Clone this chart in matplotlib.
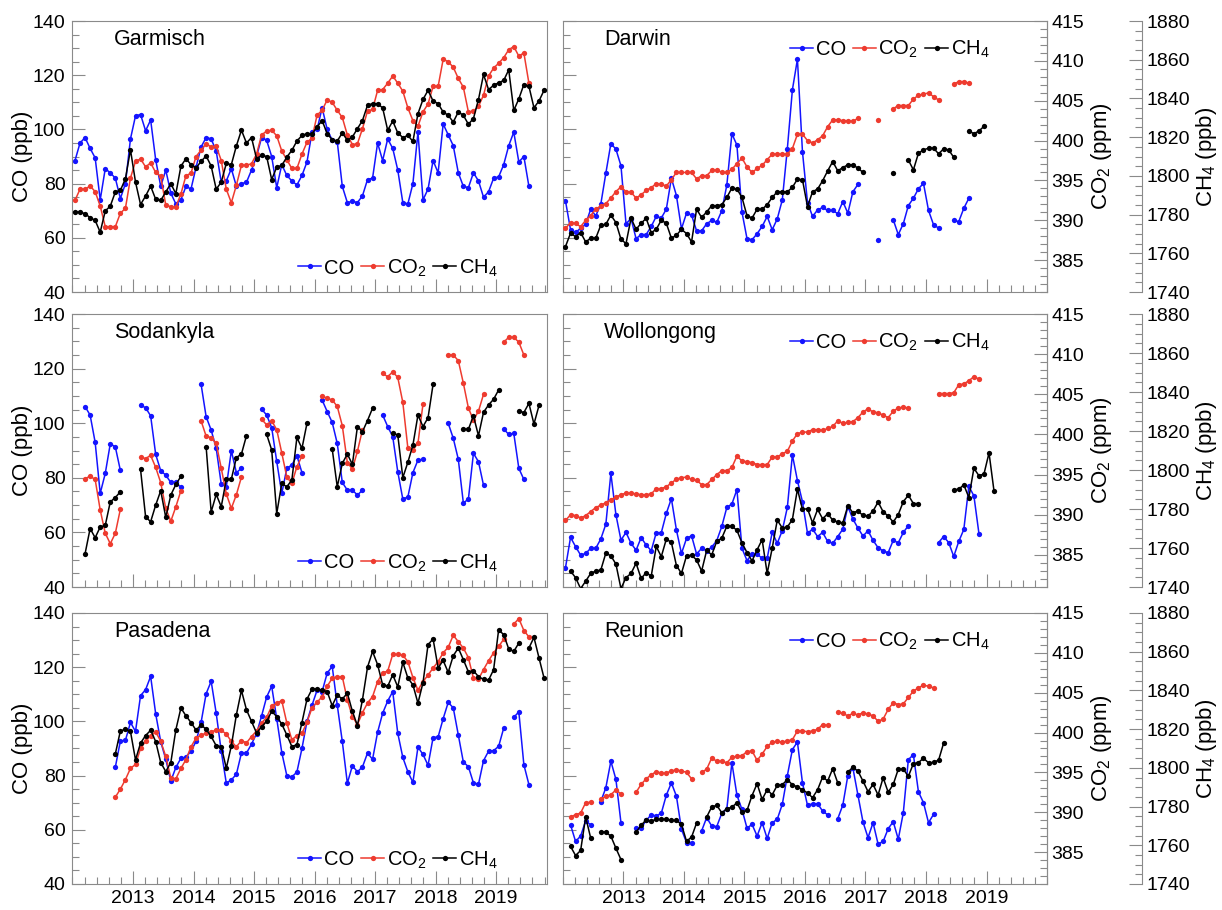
import numpy as np
import matplotlib.pyplot as plt
from matplotlib.lines import Line2D
from matplotlib.ticker import MultipleLocator

plt.rcParams['font.family'] = ['Liberation Sans', 'DejaVu Sans']
plt.rcParams['mathtext.fontset'] = 'custom'
plt.rcParams['mathtext.rm'] = 'Liberation Sans'
plt.rcParams['mathtext.it'] = 'Liberation Sans:italic'

nan = np.nan

# ── Monthly means, index 0 = Jan 2012 ────────────────────────────────────────
# CO in ppb, CO2 in ppm, CH4 in ppb

garmisch_start = 0
garmisch_co = [88.5, 95, 97, 93, 89.5, 74, 85.5, 84, 82, 74.5, 80, 96.5,
               105, 105.5, 99.5, 103.5, 88.8, 79, 85, 76.5, 72.5, 74, 79, 78,
               86, 93.5, 97, 96.5, 92, 80.5, 81, 85.5, 79, 80, 80.5, 85,
               90, 97, 96, 90, 78.5, 87, 83, 81, 79.5, 83, 88, 99,
               100, 108, 100, 96, 95.5, 79, 73, 73.5, 73, 75.5, 81.5, 82,
               95, 88.5, 96.5, 93, 85, 73, 72.5, 80, 99, 74, 78, 88.5,
               84, 102, 98, 94, 84, 79, 78.5, 84, 81, 75, 77, 82,
               82.5, 87, 94, 99, 88, 90, 79]
garmisch_co2 = [392.5, 393.9, 393.9, 394.3, 393.6, 391.8, 389.2, 389.2, 389.2, 390.9, 391.5, 395.3,
                397.4, 397.7, 396.7, 397.2, 396.0, 395.5, 391.9, 391.7, 391.7, 393.3, 395.6, 395.9,
                398.0, 398.8, 399.6, 399.2, 399.3, 397.5, 393.9, 392.2, 394.4, 396.9, 396.9, 397.1,
                398.3, 400.7, 401.2, 401.3, 400.6, 398.7, 397.6, 396.5, 396.5, 398.3, 399.8, 400.3,
                403.2, 403.8, 405.1, 404.8, 403.8, 402.9, 400.7, 399.5, 399.6, 401.5, 403.7, 403.9,
                406.3, 406.4, 407.2, 408.1, 407.2, 406.2, 404.1, 402.5, 401.8, 403.6, 404.6, 406.8,
                406.8, 410.2, 409.9, 409.2, 407.8, 406.7, 403.6, 403.7, 404.3, 405.7, 408.1, 409.1,
                409.7, 410.4, 411.4, 411.8, 410.6, 411.0, 407.2]
garmisch_ch4 = [1781.2, 1781.2, 1780.5, 1778.4, 1777.0, 1770.9, 1781.9, 1784.4, 1791.7, 1792.5, 1798.5, 1813.5,
                1796.8, 1785.2, 1789.6, 1794.7, 1787.9, 1787.3, 1791.7, 1796.0, 1790.8, 1805.0, 1808.9, 1805.8,
                1804.1, 1807.5, 1810.3, 1805.1, 1793.1, 1796.8, 1806.4, 1805.8, 1815.5, 1823.6, 1817.0, 1819.8,
                1808.9, 1810.6, 1810.0, 1798.1, 1804.5, 1805.4, 1809.7, 1813.2, 1818.0, 1820.9, 1821.8, 1821.8,
                1825.3, 1828.6, 1821.8, 1818.7, 1818.0, 1822.2, 1818.4, 1820.1, 1824.4, 1828.6, 1836.5, 1837.3,
                1837.3, 1835.1, 1823.6, 1828.3, 1822.2, 1819.8, 1820.9, 1817.8, 1832.1, 1839.5, 1844.2, 1838.7,
                1837.3, 1833.0, 1831.3, 1827.8, 1833.0, 1831.3, 1826.7, 1829.6, 1839.4, 1852.4, 1844.6, 1846.8,
                1848.1, 1849.3, 1854.8, 1833.8, 1839.8, 1847.2, 1846.3, 1835.2, 1838.7, 1844.2]

sodankyla_start = 2
sodankyla_co = [106.1, 103, 93, 74.3, 81.6, 92.5, 91.3, 82.7,
                nan, nan, nan,
                106.6, 105.7, 102.7, 88.6, 82.6, 81, 78.3, 78.3, 76.5,
                nan, nan, nan,
                114.3, 102.4, 97.5, 90.8, 77.7, 76.7, 89.9, 81.9, 83.5,
                nan, nan, nan,
                105.2, 103, 98.4, 86, 74.3, 83.5, 84.7, 88.1, 81.9,
                nan, nan, nan,
                108.5, 104.3, 100.3, 92.6, 78.3, 75.5, 75.5, 73.7, 75.5,
                nan, nan, nan,
                103, 98.8, 95.1, 82.2, 72.2, 73, 81.9, 86.5, 86.8,
                nan, nan, nan, nan,
                100, 94.5, 86.8, 70.8, 72.2, 89, 85.9, 77.3,
                nan, nan, nan,
                97.9, 95.9, 96.3, 83.5, 79.4]
sodankyla_co2 = [394.5, 394.8, 394.4, 390.6, 387.7, 386.4, 387.7, 390.7,
                 nan, nan, nan,
                 397.2, 397.0, 397.4, 395.9, 394.0, 390.8, 389.2, 391.0, 393.0,
                 nan, nan, nan,
                 401.7, 399.8, 399.6, 398.9, 395.8, 392.6, 390.8, 392.5, 394.7,
                 nan, nan, nan,
                 401.9, 401.2, 401.7, 400.6, 397.7, 394.7, 393.9, 396.0, 397.3,
                 nan, nan, nan,
                 404.8, 404.5, 404.3, 403.5, 401.1, 396.5, 395.7, 397.9, 400.6,
                 nan, nan, nan,
                 407.6, 407.2, 407.8, 407.1, 404.0, 398.3, 398.1, 398.9, 403.8,
                 nan, nan, nan, nan,
                 409.9, 409.9, 409.2, 406.4, 403.3, 401.8, 402.9, 405.0,
                 nan, nan, nan,
                 411.5, 412.1, 412.1, 411.5, 409.9]
sodankyla_ch4 = [1757.1, 1770.0, 1765.3, 1770.8, 1771.6, 1783.7, 1785.9, 1788.9,
                 nan, nan, nan,
                 1800.3, 1776.0, 1773.5, 1782.0, 1789.4, 1775.7, 1787.2, 1792.6, 1796.8,
                 nan, nan, nan, nan,
                 1812.0, 1778.5, 1787.5, 1781.2, 1795.2, 1795.3, 1806.4, 1808.2, 1817.6,
                 nan, nan, nan,
                 1818.3, 1810.3, 1777.7, 1793.1, 1791.4, 1794.9, 1816.7, 1811.1, 1824.0,
                 nan, nan, nan, nan,
                 1810.8, 1791.4, 1803.4, 1808.2, 1802.9, 1822.3, 1819.7, 1825.4, 1831.7,
                 nan, nan, nan,
                 1818.8, 1818.0, 1796.1, 1804.0, 1812.8, 1828.2, 1822.3, 1826.8, 1844.0,
                 nan, nan, nan, nan, nan,
                 1820.9, 1820.9, 1827.8, 1817.6, 1829.6, 1833.4, 1836.3, 1841.1,
                 nan, nan, nan,
                 1830.3, 1829.5, 1834.2, 1823.6, 1833.1]

pasadena_start = 8
pasadena_co = [83.1, 92.8, 93, 99.6, 96.3, 109.5, 111.7, 116.6, 102.8, 92.5, 86, 78,
               83, 86.4, 86.8, 89, 92.6, 99.6, 110.2, 114.8, 103, 89, 77.2, 78.4,
               80.5, 88.3, 88.3, 91.6, 95.5, 102, 109, 113, 101, 88.5, 80, 79.5,
               81.3, 90, 100, 106, 111.5, 111, 117.8, 120.3, 106, 92.6, 77.2, 83.6,
               81.4, 83.2, 88.3, 86, 96, 103, 107.5, 111, 95.6, 86.7, 81.4, 77.5,
               90.5, 87.8, 83.8, 94, 94.3, 101, 107, 105, 95, 85, 83.3, 77.3,
               76.8, 85.5, 89, 89.2, 90.8, 97.5, nan, 101.5, 103.5, 84, 76.7]
pasadena_co2 = [391.9, 392.9, 394.1, 395.5, 396.0, 398.0, 398.9, 399.6, 400.1, 398.9, 397.0, 394.3,
                394.2, 395.5, 396.6, 398.2, 399.3, 399.7, 399.9, 400.1, 400.3, 400.3, 399.8, 398.9,
                398.2, 399.0, 398.7, 399.5, 400.2, 401.2, 401.9, 403.3, 403.7, 404.0, 401.2, 399.1,
                399.6, 399.9, 401.3, 403.1, 403.8, 404.5, 405.8, 406.8, 407.0, 407.0, 404.1, 402.0,
                401.0, 402.5, 403.7, 404.5, 406.4, 407.5, 407.7, 409.8, 409.8, 409.7, 408.9, 406.9,
                405.3, 406.4, 407.2, 408.1, 408.9, 410.0, 410.7, 412.2, 411.4, 410.6, 409.4, 406.8,
                406.7, 407.9, 409.0, 410.0, 410.8, 411.7, nan, 413.6, 414.3, 412.8, 412.0]
pasadena_ch4 = [1807.2, 1819.1, 1819.9, 1818.8, 1804.1, 1812.8, 1816.7, 1819.4, 1813.6, 1802.7, 1798.1, 1802.7,
                1819.7, 1830.9, 1826.9, 1823.4, 1819.5, 1822.2, 1819.9, 1816.2, 1811.4, 1811.0, 1799.8, 1811.4,
                1827.4, 1840.0, 1830.0, 1824.0, 1818.0, 1821.3, 1824.0, 1829.2, 1826.5, 1822.6, 1817.0, 1811.0,
                1812.0, 1823.4, 1835.5, 1840.7, 1840.7, 1840.1, 1839.4, 1832.1, 1837.7, 1835.5, 1838.6, 1829.2,
                1821.8, 1835.2, 1852.0, 1860.1, 1853.3, 1842.9, 1842.1, 1848.1, 1841.8, 1854.5, 1846.4, 1842.9,
                1833.4, 1844.0, 1863.6, 1866.6, 1851.6, 1855.5, 1849.3, 1857.9, 1861.9, 1855.9, 1849.6, 1850.2,
                1847.1, 1845.7, 1845.3, 1850.7, 1871.3, 1868.8, 1861.4, 1860.1, 1864.5, nan, 1861.9, 1867.4,
                1856.8, 1846.4]

darwin_start = 0
darwin_co = [73.6, 63, 62, 63.5, 65, 70.6, 68.1, 72.4, 83.8, 94.8, 92.7, 86.6,
             65.2, 67.1, 59.7, 61.2, 61.2, 64.2, 67.9, 67.3, 70.6, 82, 75.6, 63.3,
             69.1, 68.4, 62.6, 62.6, 65.2, 66.4, 65.7, 70, 79.5, 98.4, 94.2, 69.5,
             59.7, 59.3, 61.5, 64.2, 67.9, 63, 67, 74, 92.9, 114.6, 125.9, 91.7,
             73, 67.9, 70.3, 71.2, 70.1, 70.1, 68.9, 73.4, 69.1, 77, 79.7, nan,
             nan, nan, 59.3, nan, nan, 66.7, 61.2, 65.2, 71.9, 74.6, 78.1, 80.1,
             70.1, 64.8, 63.6, nan, nan, 66.4, 66, 70.9, 74.6]
darwin_co2 = [389.0, 389.7, 389.6, 389.2, 390.0, 390.6, 391.4, 391.8, 392.1, 392.8, 393.6, 394.2,
              393.6, 393.5, 392.8, 393.2, 393.75, 394.1, 394.6, 394.5, 394.3, 395.1, 396.0, 396.0,
              396.0, 396.0, 395.2, 395.6, 395.6, 396.25, 396.3, 396.0, 396.0, 396.4, 397.1, 397.8,
              396.7, 396.0, 396.5, 396.9, 397.6, 398.3, 398.3, 398.3, 398.3, 399.0, 400.8, 400.8,
              400.0, 399.7, 400.1, 400.6, 401.75, 402.6, 402.6, 402.5, 402.5, 402.4, 402.8, nan,
              nan, nan, 402.6, nan, nan, 404.0, 404.4, 404.4, 404.4, 405.2, 405.7, 405.8,
              406.0, 405.5, 405.1, nan, nan, 407.1, 407.4, 407.4, 407.2]
darwin_ch4 = [1763.5, 1770.4, 1768.6, 1770.7, 1765.9, 1767.8, 1767.8, 1774.5, 1775.0, 1779.7, 1775.9, 1767.3,
              1765.0, 1778.1, 1772.4, 1775.5, 1778.1, 1770.7, 1772.4, 1777.1, 1775.5, 1767.8, 1769.3, 1772.4,
              1770.2, 1765.9, 1782.8, 1778.5, 1781.4, 1784.6, 1784.6, 1785.1, 1788.9, 1793.7, 1793.2, 1788.9,
              1779.4, 1778.2, 1782.8, 1782.8, 1785.1, 1788.9, 1791.8, 1791.8, 1791.8, 1794.1, 1798.3, 1798.0,
              1784.1, 1791.8, 1793.2, 1797.5, 1802.6, 1807.4, 1802.6, 1804.3, 1805.7, 1805.7, 1804.0, 1801.8,
              nan, nan, nan, nan, nan, 1801.5, nan, nan, 1808.2, 1803.1, 1811.7, 1813.4,
              1814.3, 1814.3, 1811.4, 1814.0, 1813.4, 1809.6, nan, nan, 1823.2, 1821.8, 1823.2, 1825.6]

wollongong_start = 0
wollongong_ch4_start = 1
wollongong_co = [47.1, 58.2, 54.8, 51.7, 52.3, 54.2, 54.2, 57.6, 63, 81.6, 66.5, 57.2,
                 60, 56, 53.5, 58.1, 55.4, 53.3, 59.9, 59.9, 67, 72.4, 60.9, 52.3,
                 57.8, 58.8, 52.1, 54.2, 53.3, 54.6, 57, 62.2, 69.2, 70.4, 75.7, 54.2,
                 49.7, 52.1, 52.1, 50.5, 50.5, 60.1, 56, 60.7, 69.2, 88.4, 79, 71.2,
                 59.7, 61.2, 58.5, 60, 56.7, 56, 58.5, 61.2, 69.5, 64.9, 61.6, 58.7,
                 60.6, 57.1, 54.4, 53.2, 52.6, 57.1, 56.2, 60, 62.5, nan, nan, nan,
                 nan, nan, 56.3, 58.5, 56.3, 51.2, 56.7, 61.1, 76.9, 73.4, 59.6]
wollongong_co2 = [389.3, 390.0, 389.9, 389.6, 389.9, 390.4, 390.9, 391.2, 391.5, 391.9, 392.2, 392.5,
                  392.7, 392.7, 392.6, 392.5, 392.5, 392.6, 393.25, 393.25, 393.5, 393.95, 394.45, 394.6,
                  394.7, 394.4, 394.3, 393.75, 393.75, 394.4, 395.0, 395.5, 395.5, 395.9, 397.3, 396.7,
                  396.6, 396.5, 396.25, 396.25, 396.25, 397.2, 397.2, 397.6, 397.9, 399.2, 400.1, 400.3,
                  400.3, 400.6, 400.6, 400.5, 400.75, 401.0, 401.7, 401.4, 401.5, 401.6, 402.1, 402.8,
                  403.2, 402.8, 402.7, 402.4, 402.1, 402.9, 403.3, 403.4, 403.3, nan, nan, nan,
                  nan, nan, 405.1, 405.1, 405.1, 405.2, 406.2, 406.3, 406.7, 407.2, 406.9]
wollongong_ch4 = [1748.2, 1744.8, 1739.2, 1743.0, 1747.0, 1748.2, 1748.7, 1757.4, 1756.0, 1751.8, 1739.2,
                  1744.8, 1747.0, 1752.2, 1744.4, 1747.4, 1745.6, 1760.8, 1755.6, 1764.6, 1762.9, 1751.0, 1747.0,
                  1756.0, 1756.3, 1753.9, 1748.2, 1758.8, 1756.5, 1763.4, 1765.1, 1771.2, 1771.2, 1769.1, 1762.6,
                  1757.7, 1753.4, 1759.1, 1764.3, 1747.0, 1760.0, 1774.3, 1770.3, 1770.8, 1774.6, 1790.2, 1779.8,
                  1780.2, 1772.9, 1779.8, 1775.0, 1777.6, 1774.3, 1773.3, 1772.9, 1781.6, 1778.1, 1779.0, 1776.7,
                  1776.4, 1779.0, 1783.6, 1778.6, 1776.4, 1773.3, 1777.2, 1783.8, 1787.1, 1782.8, 1782.8, nan,
                  nan, nan, nan, nan, nan, 1789.8, 1790.2, 1792.4, 1785.9, 1800.9, 1797.1, 1798.0,
                  1808.8, 1789.0]

reunion_start = 1
reunion_co = [61.8, 55.7, 57.7, 63.3, 61.8,
              nan,
              70.4, 75.5, 85.3, 78.6, 62.6,
              nan, nan,
              60.6, 60.6, 63.5, 65.5, 65.1, 66.1, 72.8, 77.3, 72.4, 60.2, 55.3, 55.3,
              nan,
              59.6, 64.5, 61.4, 61.2, 66.1, 67.8, 84.7, 72.8, 67.5, 60.6, 62, 57.7, 62.6,
              56.8, 62.6, 63.9, 69.4, 80, 89.6, 92.4, 77.3, 69, 69.6, 69.6, 66.9, 65.5,
              nan,
              64.1, 69.1, 80, 82.8, 72.8, 62.9, 57.1, 62.6, 54.7, 55.7,
              60.4, 63, 56.5, 66.3, 85.9, 87.7, 74, 70, 62.6, 65.7]
reunion_co2 = [389.4, 389.7, 389.9, 391.2, 391.25,
               nan,
               391.6, 392.0, 392.2, 392.8, 392.3,
               nan, nan,
               392.5, 393.5, 394.2, 394.7, 395.1, 394.9, 394.9, 395.2, 395.3, 395.2, 395.0, 394.2,
               nan,
               395.0, 395.4, 396.8, 396.4, 396.4, 396.2, 396.9, 397.0, 397.1, 397.6, 397.7, 396.5, 397.3,
               398.25, 398.8, 398.9, 398.8, 398.95, 399.1, 400.2, 400.2, 400.1, 400.2, 400.4, 401.0, 400.9,
               nan,
               402.6, 402.4, 402.1, 402.4, 402.2, 402.5, 402.3, 402.1, 401.4, 401.7,
               402.9, 403.75, 403.5, 403.6, 404.4, 405.2, 405.6, 405.95, 405.8, 405.6]
reunion_ch4 = [1759.4, 1754.7, 1757.3, 1774.6, 1763.7,
               nan,
               1766.8, 1766.8, 1764.7, 1758.5, 1752.6,
               nan, nan,
               1766.8, 1770.3, 1773.2, 1772.5, 1773.4, 1773.4, 1773.4, 1772.8, 1772.8, 1770.8, 1762.1, 1764.2, 1771.5,
               nan,
               1774.6, 1779.8, 1780.6, 1776.8, 1778.8, 1779.7, 1781.9, 1777.1, 1778.0, 1785.7, 1791.8, 1783.7, 1788.7,
               1786.1, 1791.0, 1791.3, 1793.9, 1791.3, 1790.1, 1788.7, 1787.0, 1784.6, 1788.7, 1795.3, 1793.2, 1799.6, 1792.2,
               nan,
               1797.8, 1800.3, 1798.3, 1793.2, 1787.7, 1791.4, 1786.0, 1794.9, 1787.4, 1791.4,
               1799.3, 1799.3, 1795.6, 1802.2, 1802.7, 1805.0, 1802.6, 1802.8, 1804.0, 1812.8]

year_ticks = [2013, 2014, 2015, 2016, 2017, 2018, 2019]
year_labels = ['2013', '2014', '2015', '2016', '2017', '2018', '2019']
species = ['CO', 'CO$_2$', 'CH$_4$']

CO_LIM = (40, 140)
CO2_LIM = (381, 415)
CH4_LIM = (1740, 1880)

C_CO = '#1414ff'
C_CO2 = '#ee3b2f'
C_CH4 = '#000000'
FRAME = '#8a8a8a'
TICK_FS = 14

# ── Helpers ───────────────────────────────────────────────────────────────────
def months(start, vals):
    idx = start + np.arange(len(vals))
    return 2012 + (idx + 0.5) / 12.0


def draw(ax, start, vals, color):
    ax.plot(months(start, vals), vals, '-o', color=color, lw=1.1, ms=3.8, mew=0)


def style_axis(ax, which_axis):
    ax.tick_params(axis=which_axis, which='both', direction='in',
                   colors=FRAME, labelcolor='black', labelsize=TICK_FS)
    ax.tick_params(axis=which_axis, which='major', length=9.4, width=0.8)
    ax.tick_params(axis=which_axis, which='minor', length=4.7, width=0.8)


def panel(rect, name, co, co2, ch4, left_col, bottom_row, xmax):
    ax = fig.add_axes(rect)
    for s in ax.spines.values():
        s.set_color(FRAME)
        s.set_linewidth(0.8)

    ax.set_xlim(2012, xmax)
    ax.set_xticks(year_ticks)
    ax.set_xticklabels(year_labels)
    ax.xaxis.set_minor_locator(MultipleLocator(0.2))
    style_axis(ax, 'x')
    ax.tick_params(axis='x', which='both', top=False, pad=4, labelbottom=bottom_row)

    ax.set_ylim(*CO_LIM)
    ax.yaxis.set_major_locator(MultipleLocator(20))
    ax.yaxis.set_minor_locator(MultipleLocator(5))
    style_axis(ax, 'y')
    ax.tick_params(axis='y', which='both', pad=5, right=left_col, labelleft=left_col)

    ax2 = ax.twinx()
    ax3 = ax.twinx()
    ax2.set_ylim(*CO2_LIM)
    ax3.set_ylim(*CH4_LIM)

    if left_col:
        ax.set_ylabel('CO (ppb)', fontsize=16)
        ax.yaxis.set_label_coords(-0.083, 0.5)
        ax2.set_axis_off()
        ax3.set_axis_off()
    else:
        for tw in (ax2, ax3):
            for side in ('left', 'top', 'bottom'):
                tw.spines[side].set_visible(False)
            tw.spines['right'].set_color(FRAME)
            tw.spines['right'].set_linewidth(0.8)
        ax3.spines['right'].set_position(('axes', 1.196))

        ax2.yaxis.set_major_locator(MultipleLocator(5))
        ax2.yaxis.set_minor_locator(MultipleLocator(1))
        style_axis(ax2, 'y')
        ax2.tick_params(axis='y', which='both', pad=3)
        ax2.set_ylabel('CO$_2$ (ppm)', fontsize=16)
        ax2.yaxis.set_label_coords(1.087, 0.5)

        ax3.yaxis.set_major_locator(MultipleLocator(20))
        ax3.yaxis.set_minor_locator(MultipleLocator(5))
        style_axis(ax3, 'y')
        ax3.tick_params(axis='y', which='both', pad=3)
        ax3.set_ylabel('CH$_4$ (ppb)', fontsize=16)
        ax3.yaxis.set_label_coords(1.304, 0.5)

    draw(ax, co[0], co[1], C_CO)
    draw(ax2, co2[0], co2[1], C_CO2)
    draw(ax3, ch4[0], ch4[1], C_CH4)

    ax.text(0.088 if left_col else 0.085, 0.913, name, transform=ax.transAxes,
            fontsize=15.5, ha='left', va='baseline')

    handles = [Line2D([], [], color=c, marker='o', lw=1.1, ms=3.8, mew=0)
               for c in (C_CO, C_CO2, C_CH4)]
    anchor = (0.686, 0.088) if left_col else (0.675, 0.895)
    ax3.legend(handles, species, ncol=3, loc='center', bbox_to_anchor=anchor,
               frameon=False, fontsize=14.5, handlelength=1.15, handletextpad=0.12,
               columnspacing=0.35, borderpad=0, borderaxespad=0)
    return ax


# ── Figure ────────────────────────────────────────────────────────────────────
fig = plt.figure(figsize=(12.22, 9.10), dpi=100)

rows = [(0.6791, 0.2978), (0.3549, 0.3000), (0.0286, 0.2978)]
cols = [(0.0593, 0.3883), (0.4607, 0.3961)]
LEFT_XMAX = 2019.84
RIGHT_XMAX = 2020.0

def rect(r, c):
    return [cols[c][0], rows[r][0], cols[c][1], rows[r][1]]

panel(rect(0, 0), 'Garmisch',
      (garmisch_start, garmisch_co), (garmisch_start, garmisch_co2), (garmisch_start, garmisch_ch4),
      True, False, LEFT_XMAX)
panel(rect(1, 0), 'Sodankyla',
      (sodankyla_start, sodankyla_co), (sodankyla_start, sodankyla_co2), (sodankyla_start, sodankyla_ch4),
      True, False, LEFT_XMAX)
panel(rect(2, 0), 'Pasadena',
      (pasadena_start, pasadena_co), (pasadena_start, pasadena_co2), (pasadena_start, pasadena_ch4),
      True, True, LEFT_XMAX)
panel(rect(0, 1), 'Darwin',
      (darwin_start, darwin_co), (darwin_start, darwin_co2), (darwin_start, darwin_ch4),
      False, False, RIGHT_XMAX)
panel(rect(1, 1), 'Wollongong',
      (wollongong_start, wollongong_co), (wollongong_start, wollongong_co2),
      (wollongong_ch4_start, wollongong_ch4),
      False, False, RIGHT_XMAX)
panel(rect(2, 1), 'Reunion',
      (reunion_start, reunion_co), (reunion_start, reunion_co2), (reunion_start, reunion_ch4),
      False, True, RIGHT_XMAX)

fig.savefig('out.png', dpi=100)
